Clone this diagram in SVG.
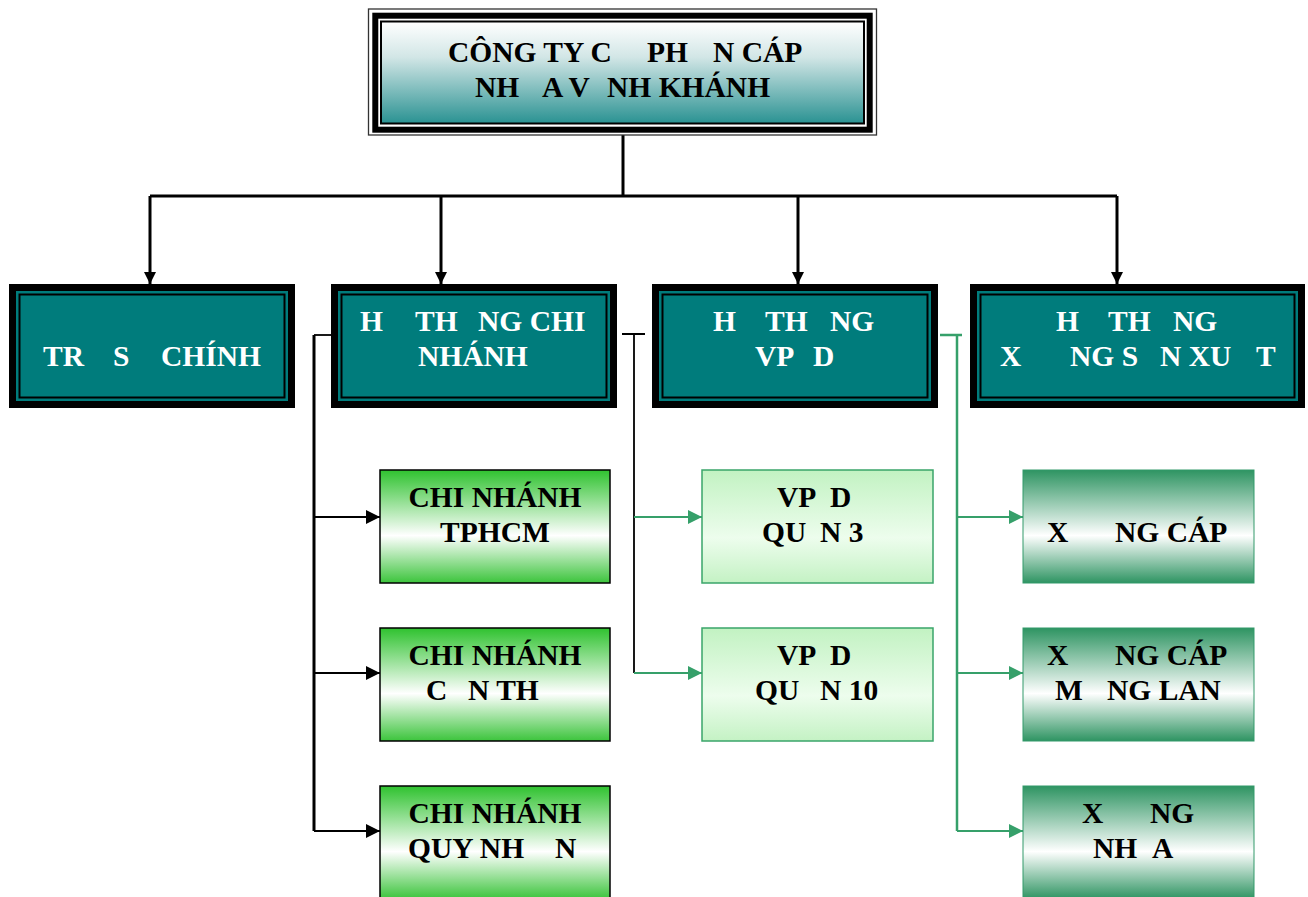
<svg xmlns="http://www.w3.org/2000/svg" width="1308" height="897" viewBox="0 0 1308 897">
<defs>
<style>
text{font-family:"Liberation Serif","Times New Roman",serif;font-weight:bold;font-size:29.5px}
.w{fill:#ffffff}
.k{fill:#000000}
.mid{text-anchor:middle}
.blk{fill:#000000}
.teal{fill:#007c7c}
.inl{fill:none;stroke:#000000;stroke-width:2}
.cn{fill:url(#gCN);stroke:#000000;stroke-width:1.5}
.vp{fill:url(#gVP);stroke:#3aa56a;stroke-width:1.5}
.xw{fill:url(#gXW);stroke:#33996a;stroke-width:1}
.cb{fill:none;stroke:#000000;stroke-width:3}
.cbt{fill:none;stroke:#000000;stroke-width:1.8}
.cg{fill:none;stroke:#36a06a;stroke-width:1.8}
.cgt{fill:none;stroke:#36a06a;stroke-width:2.5}
</style>
<linearGradient id="gTop" x1="0" y1="0" x2="0" y2="1">
<stop offset="0" stop-color="#ffffff"/>
<stop offset="0.35" stop-color="#d2e6e6"/>
<stop offset="1" stop-color="#2a9292"/>
</linearGradient>
<linearGradient id="gCN" x1="0" y1="0" x2="0" y2="1">
<stop offset="0" stop-color="#2fc22f"/>
<stop offset="0.58" stop-color="#ffffff"/>
<stop offset="1" stop-color="#3cc43c"/>
</linearGradient>
<linearGradient id="gVP" x1="0" y1="0" x2="0" y2="1">
<stop offset="0" stop-color="#c2f2c2"/>
<stop offset="0.6" stop-color="#edfded"/>
<stop offset="1" stop-color="#c4f2c4"/>
</linearGradient>
<linearGradient id="gXW" x1="0" y1="0" x2="0" y2="1">
<stop offset="0" stop-color="#2e9462"/>
<stop offset="0.58" stop-color="#ffffff"/>
<stop offset="1" stop-color="#2e9462"/>
</linearGradient>
<marker id="aTop" markerUnits="userSpaceOnUse" markerWidth="12" markerHeight="12" refX="12" refY="6" orient="auto">
<path d="M0,0 L12,6 L0,12 z" fill="#000000"/>
</marker>
<marker id="aB" markerUnits="userSpaceOnUse" markerWidth="14" markerHeight="14" refX="14" refY="7" orient="auto">
<path d="M0,0 L14,7 L0,14 z" fill="#000000"/>
</marker>
<marker id="aG" markerUnits="userSpaceOnUse" markerWidth="14" markerHeight="14" refX="14" refY="7" orient="auto">
<path d="M0,0 L14,7 L0,14 z" fill="#36a06a"/>
</marker>
</defs>
<rect x="0" y="0" width="1308" height="897" fill="#ffffff"/>

<g id="connectors">
<path class="cb" d="M623,135 V196"/>
<path class="cb" d="M150,196 H1117"/>
<path class="cb" d="M150,196 V284" marker-end="url(#aTop)"/>
<path class="cb" d="M441,196 V284" marker-end="url(#aTop)"/>
<path class="cb" d="M798,196 V284" marker-end="url(#aTop)"/>
<path class="cb" d="M1117,196 V284" marker-end="url(#aTop)"/>

<path class="cbt" d="M314,335 H331"/>
<path class="cb" d="M314,335 V831"/>
<path class="cbt" d="M314,517 H380" marker-end="url(#aB)"/>
<path class="cbt" d="M314,673 H380" marker-end="url(#aB)"/>
<path class="cbt" d="M314,831 H380" marker-end="url(#aB)"/>

<path class="cbt" d="M622,334 H645 M634,334 V673"/>
<path class="cg" d="M634,517 H702" marker-end="url(#aG)"/>
<path class="cg" d="M634,673 H702" marker-end="url(#aG)"/>

<path class="cgt" d="M940,335 H962 M957,335 V831"/>
<path class="cg" d="M957,517 H1023" marker-end="url(#aG)"/>
<path class="cg" d="M957,673 H1023" marker-end="url(#aG)"/>
<path class="cg" d="M957,831 H1023" marker-end="url(#aG)"/>
</g>

<g id="company">
<rect x="368.5" y="9" width="508" height="126" fill="#ffffff" stroke="#333333" stroke-width="1.3"/>
<rect x="375.3" y="15.7" width="494.4" height="114" fill="none" stroke="#000000" stroke-width="6"/>
<rect x="381" y="21.5" width="483" height="102" fill="url(#gTop)" stroke="#000000" stroke-width="2"/>
<text class="k" y="62"><tspan x="448">CÔNG TY C</tspan> <tspan x="647">PH</tspan> <tspan x="713">N CÁP</tspan></text>
<text class="k" y="97"><tspan x="475">NH</tspan> <tspan x="542">A V</tspan> <tspan x="607">NH KHÁNH</tspan></text>
</g>

<g id="tru-so">
<rect class="blk" x="9" y="284" width="286" height="124"/>
<rect class="teal" x="16" y="291" width="272" height="110"/>
<rect class="inl" x="19.5" y="294.5" width="265" height="103"/>
<text class="w" y="366"><tspan x="43">TR</tspan> <tspan x="113">S</tspan> <tspan x="161">CHÍNH</tspan></text>
</g>

<g id="he-thong-chi-nhanh">
<rect class="blk" x="331" y="284" width="286" height="124"/>
<rect class="teal" x="338" y="291" width="272" height="110"/>
<rect class="inl" x="341.5" y="294.5" width="265" height="103"/>
<text class="w" y="331"><tspan x="360">H</tspan> <tspan x="415">TH</tspan> <tspan x="478">NG CHI</tspan></text>
<text class="w" y="366"><tspan x="418">NHÁNH</tspan></text>
</g>

<g id="he-thong-vpdd">
<rect class="blk" x="652" y="284" width="286" height="124"/>
<rect class="teal" x="659" y="291" width="272" height="110"/>
<rect class="inl" x="662.5" y="294.5" width="265" height="103"/>
<text class="w" y="331"><tspan x="713">H</tspan> <tspan x="765">TH</tspan> <tspan x="830">NG</tspan></text>
<text class="w" y="366"><tspan x="755">VP</tspan> <tspan x="813">D</tspan></text>
</g>

<g id="he-thong-xuong">
<rect class="blk" x="970" y="284" width="335" height="124"/>
<rect class="teal" x="977" y="291" width="321" height="110"/>
<rect class="inl" x="980.5" y="294.5" width="314" height="103"/>
<text class="w" y="331"><tspan x="1056">H</tspan> <tspan x="1108">TH</tspan> <tspan x="1173">NG</tspan></text>
<text class="w" y="366"><tspan x="1000">X</tspan> <tspan x="1070">NG S</tspan> <tspan x="1160">N XU</tspan> <tspan x="1256">T</tspan></text>
</g>

<g id="cn-tphcm">
<rect class="cn" x="380" y="470" width="230" height="113"/>
<text class="k mid" x="495" y="507">CHI NHÁNH</text>
<text class="k mid" x="495" y="542">TPHCM</text>
</g>

<g id="cn-can-tho">
<rect class="cn" x="380" y="628" width="230" height="113"/>
<text class="k mid" x="495" y="665">CHI NHÁNH</text>
<text class="k" y="700"><tspan x="426">C</tspan> <tspan x="468">N TH</tspan></text>
</g>

<g id="cn-quy-nhon">
<rect class="cn" x="380" y="786" width="230" height="113"/>
<text class="k mid" x="495" y="823">CHI NHÁNH</text>
<text class="k" y="858"><tspan x="408">QUY NH</tspan> <tspan x="555">N</tspan></text>
</g>

<g id="vp-quan-3">
<rect class="vp" x="702" y="470" width="231" height="113"/>
<text class="k" y="507"><tspan x="777">VP</tspan> <tspan x="830">D</tspan></text>
<text class="k" y="542"><tspan x="762">QU</tspan> <tspan x="820">N 3</tspan></text>
</g>

<g id="vp-quan-10">
<rect class="vp" x="702" y="628" width="231" height="113"/>
<text class="k" y="665"><tspan x="777">VP</tspan> <tspan x="830">D</tspan></text>
<text class="k" y="700"><tspan x="755">QU</tspan> <tspan x="820">N 10</tspan></text>
</g>

<g id="xuong-cap">
<rect class="xw" x="1023" y="470" width="231" height="113"/>
<text class="k" y="542"><tspan x="1047">X</tspan> <tspan x="1115">NG CÁP</tspan></text>
</g>

<g id="xuong-cap-mang-lan">
<rect class="xw" x="1023" y="628" width="231" height="113"/>
<text class="k" y="665"><tspan x="1047">X</tspan> <tspan x="1115">NG CÁP</tspan></text>
<text class="k" y="700"><tspan x="1055">M</tspan> <tspan x="1107">NG LAN</tspan></text>
</g>

<g id="xuong-nhua">
<rect class="xw" x="1023" y="786" width="231" height="113"/>
<text class="k" y="823"><tspan x="1082">X</tspan> <tspan x="1150">NG</tspan></text>
<text class="k" y="858"><tspan x="1093">NH</tspan> <tspan x="1152">A</tspan></text>
</g>
</svg>
